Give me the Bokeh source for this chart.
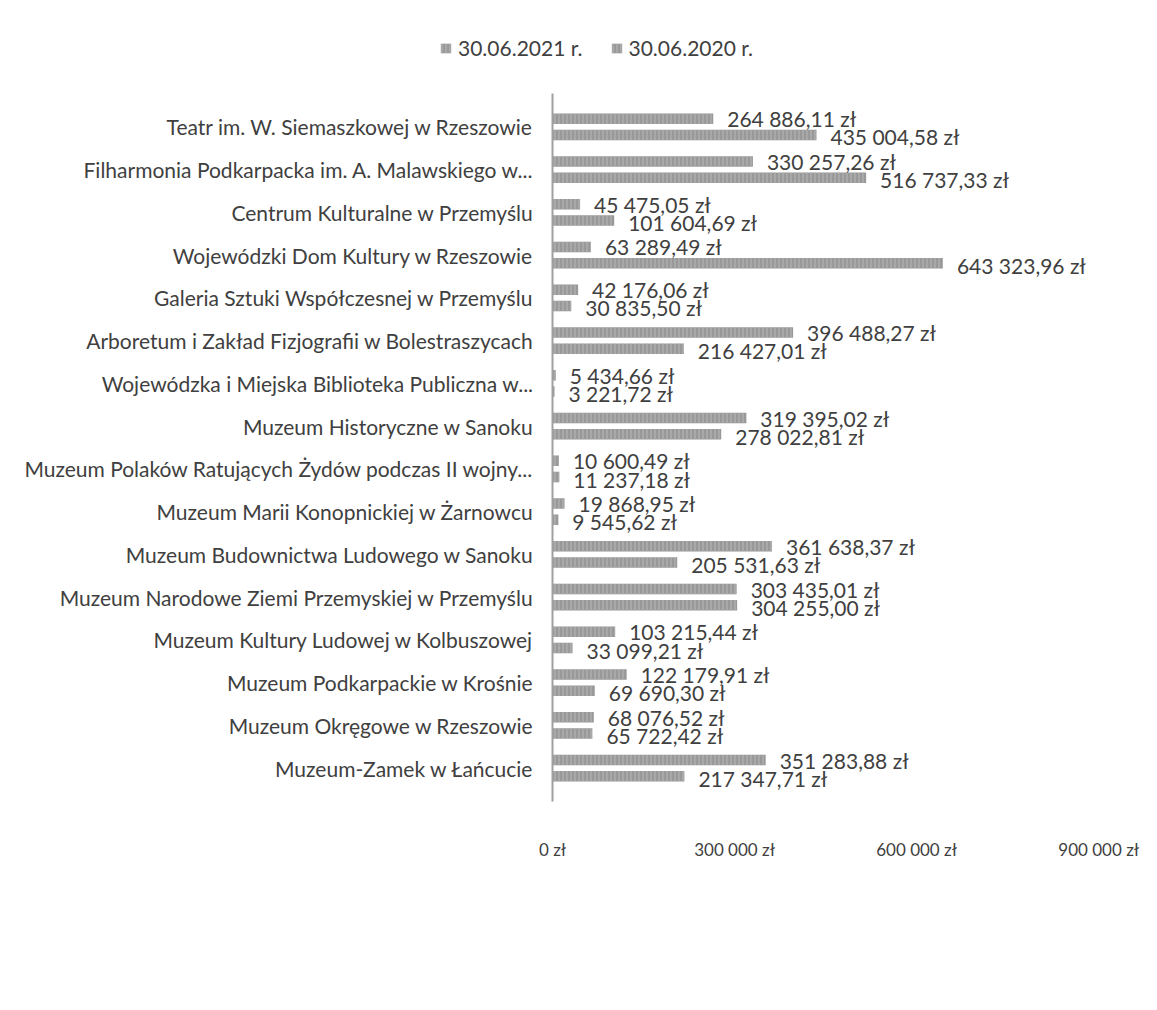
from bokeh.plotting import figure
from bokeh.layouts import column
from bokeh.models import ColumnDataSource, FactorRange, Range1d, FixedTicker, Legend, LegendItem
from bokeh.transform import dodge
from bokeh.core.properties import value
from bokeh.embed import file_html
from bokeh.resources import INLINE

categories = [
    "Teatr im. W. Siemaszkowej w Rzeszowie",
    "Filharmonia Podkarpacka im. A. Malawskiego w...",
    "Centrum Kulturalne w Przemyślu",
    "Wojewódzki Dom Kultury w Rzeszowie",
    "Galeria Sztuki Współczesnej w Przemyślu",
    "Arboretum i Zakład Fizjografii w Bolestraszycach",
    "Wojewódzka i Miejska Biblioteka Publiczna w...",
    "Muzeum Historyczne w Sanoku",
    "Muzeum Polaków Ratujących Żydów podczas II wojny...",
    "Muzeum Marii Konopnickiej w Żarnowcu",
    "Muzeum Budownictwa Ludowego w Sanoku",
    "Muzeum Narodowe Ziemi Przemyskiej w Przemyślu",
    "Muzeum Kultury Ludowej w Kolbuszowej",
    "Muzeum Podkarpackie w Krośnie",
    "Muzeum Okręgowe w Rzeszowie",
    "Muzeum-Zamek w Łańcucie",
]
values_2021 = [264886.11, 330257.26, 45475.05, 63289.49, 42176.06, 396488.27, 5434.66,
               319395.02, 10600.49, 19868.95, 361638.37, 303435.01, 103215.44,
               122179.91, 68076.52, 351283.88]
values_2020 = [435004.58, 516737.33, 101604.69, 643323.96, 30835.50, 216427.01, 3221.72,
               278022.81, 11237.18, 9545.62, 205531.63, 304255.00, 33099.21,
               69690.30, 65722.42, 217347.71]
series_names = ["30.06.2021 r.", "30.06.2020 r."]
tick_values = [0, 300000, 600000, 900000]
tick_labels = ["0 zł", "300 000 zł", "600 000 zł", "900 000 zł"]


def fmt(v):
    s = f"{v:,.2f}"
    s = s.replace(",", " ").replace(".", ",")
    return s + " zł"


src = ColumnDataSource(dict(
    cat=categories,
    v21=values_2021,
    v20=values_2020,
    l21=[fmt(v) for v in values_2021],
    l20=[fmt(v) for v in values_2020],
))

FONT = "Lato"
TXT = "#404040"
BAR_STYLE = dict(fill_color="#999999", line_color=None,
                 hatch_pattern="|", hatch_color="#b8b8b8", hatch_scale=4, hatch_weight=1)

# ---- main chart ----
p = figure(
    width=1141, height=924,
    y_range=FactorRange(*reversed(categories), range_padding=0.28,
                        range_padding_units="absolute"),
    x_range=Range1d(0, 959000),
    output_backend="svg", toolbar_location=None,
    min_border_left=552, min_border_right=7, min_border_top=23, min_border_bottom=193,
)
p.frame_align = False
p.outline_line_color = None
p.grid.visible = False

p.hbar(y=dodge("cat", 0.19, range=p.y_range), right="v21", left=0, height=0.25,
       source=src, **BAR_STYLE)
p.hbar(y=dodge("cat", -0.19, range=p.y_range), right="v20", left=0, height=0.25,
       source=src, **BAR_STYLE)

p.text(x="v21", y=dodge("cat", 0.19, range=p.y_range), text="l21", source=src,
       x_offset=14, text_baseline="middle", text_align="left",
       text_font=value(FONT), text_font_size="21px", text_color=TXT)
p.text(x="v20", y=dodge("cat", -0.19, range=p.y_range), text="l20", source=src,
       x_offset=14, y_offset=2, text_baseline="middle", text_align="left",
       text_font=value(FONT), text_font_size="21px", text_color=TXT)

p.yaxis.axis_line_color = "#a0a0a0"
p.yaxis.axis_line_width = 2
p.yaxis.major_tick_line_color = None
p.yaxis.minor_tick_line_color = None
p.yaxis.major_label_standoff = 13
p.yaxis.major_label_text_font = FONT
p.yaxis.major_label_text_font_size = "21px"
p.yaxis.major_label_text_color = TXT

p.xaxis.axis_line_color = None
p.xaxis.major_tick_line_color = None
p.xaxis.minor_tick_line_color = None
p.xaxis.ticker = FixedTicker(ticks=tick_values)
p.xaxis.major_label_overrides = {t: l for t, l in zip(tick_values, tick_labels)}
p.xaxis.major_label_standoff = 31
p.xaxis.major_label_text_font = FONT
p.xaxis.major_label_text_font_size = "17px"
p.xaxis.major_label_text_color = TXT

# ---- legend header ----
h = figure(
    width=1141, height=70, x_range=Range1d(0, 1), y_range=Range1d(0, 1),
    output_backend="svg", toolbar_location=None,
    x_axis_location=None, y_axis_location=None,
    min_border_left=0, min_border_right=0, min_border_top=0, min_border_bottom=0,
)
h.frame_align = False
h.outline_line_color = None
h.grid.visible = False
lr21 = h.hbar(y="v21", right="v21", height=0.1, source=src, visible=False, **BAR_STYLE)
lr20 = h.hbar(y="v20", right="v20", height=0.1, source=src, visible=False, **BAR_STYLE)
legend = Legend(
    items=[LegendItem(label=series_names[0], renderers=[lr21]),
           LegendItem(label=series_names[1], renderers=[lr20])],
    location=(439, 10), orientation="horizontal",
    padding=0, margin=0, spacing=27, label_standoff=6,
    glyph_width=13, glyph_height=12,
    border_line_color=None, background_fill_alpha=0,
    label_text_font=FONT, label_text_font_size="21px", label_text_color=TXT,
)
h.add_layout(legend, "center")

layout = column(h, p, spacing=0)
open("out.html", "w").write(file_html(layout, INLINE))
